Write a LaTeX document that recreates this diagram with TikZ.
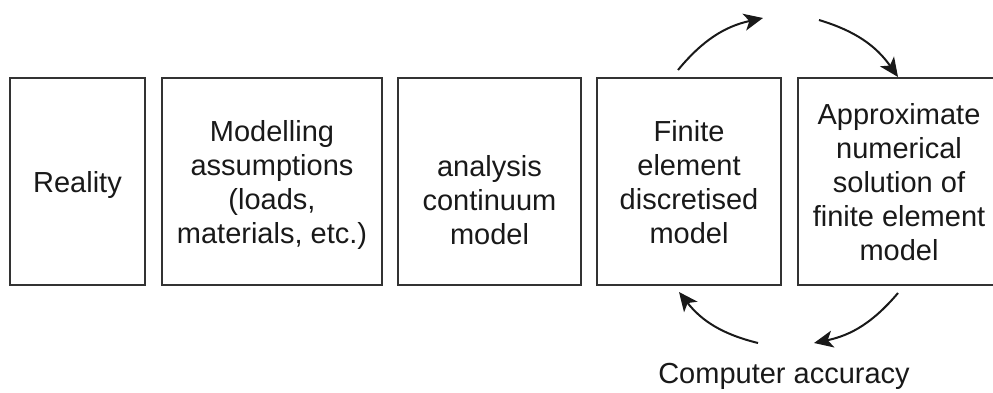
\documentclass[tikz,border=0pt]{standalone}
\usepackage{fontspec}
\setmainfont{Liberation Sans}
\usetikzlibrary{arrows.meta}
\begin{document}
\begin{tikzpicture}[x=1pt,y=1pt,
  box/.style={draw=black!80, line width=2pt, align=center, inner sep=0pt,
    text=black!90, font=\fontsize{29}{34}\selectfont, text depth=0pt,
    minimum height=207pt},
  txt/.style={align=center, inner sep=0pt, text=black!90,
    font=\fontsize{29}{34}\selectfont, text depth=0pt},
  cyc/.style={draw=black!90, line width=2pt,
    -{Stealth[length=19pt,width=17pt,inset=5pt]}, bend left=19}
]
\useasboundingbox (0,0) rectangle (993,-392);

% process chain
\node[box, minimum width=135pt] (real) at (77.5,-181.5) {Reality};
\node[box, minimum width=220pt] (assm) at (272,-181.5)
  {Modelling\\assumptions\\(loads,\\materials, etc.)};
\node[box, minimum width=183pt] (cont) at (489.5,-181.5) {};
\node[txt] (conttxt) at ([yshift=-18.5pt]cont.center)
  {analysis\\continuum\\model};
\node[box, minimum width=184pt] (fem) at (689,-181.5)
  {Finite\\element\\discretised\\model};
\node[box, minimum width=202pt] (sol) at (899,-181.5)
  {Approximate\\numerical\\solution of\\finite element\\model};

% iteration loop between the two right-hand boxes
\coordinate (u1) at (678,-70);
\coordinate (u2) at (763,-18);
\coordinate (u3) at (819,-20);
\coordinate (u4) at (898,-77);
\coordinate (d1) at (898,-293);
\coordinate (d2) at (814,-343);
\coordinate (d3) at (758,-343);
\coordinate (d4) at (679,-292);
\draw[cyc] (u1) to (u2);
\draw[cyc] (u3) to (u4);
\draw[cyc] (d1) to (d2);
\draw[cyc] (d3) to (d4);

\node[txt, anchor=base] (acc) at (784,-383) {Computer accuracy};
\end{tikzpicture}
\end{document}
